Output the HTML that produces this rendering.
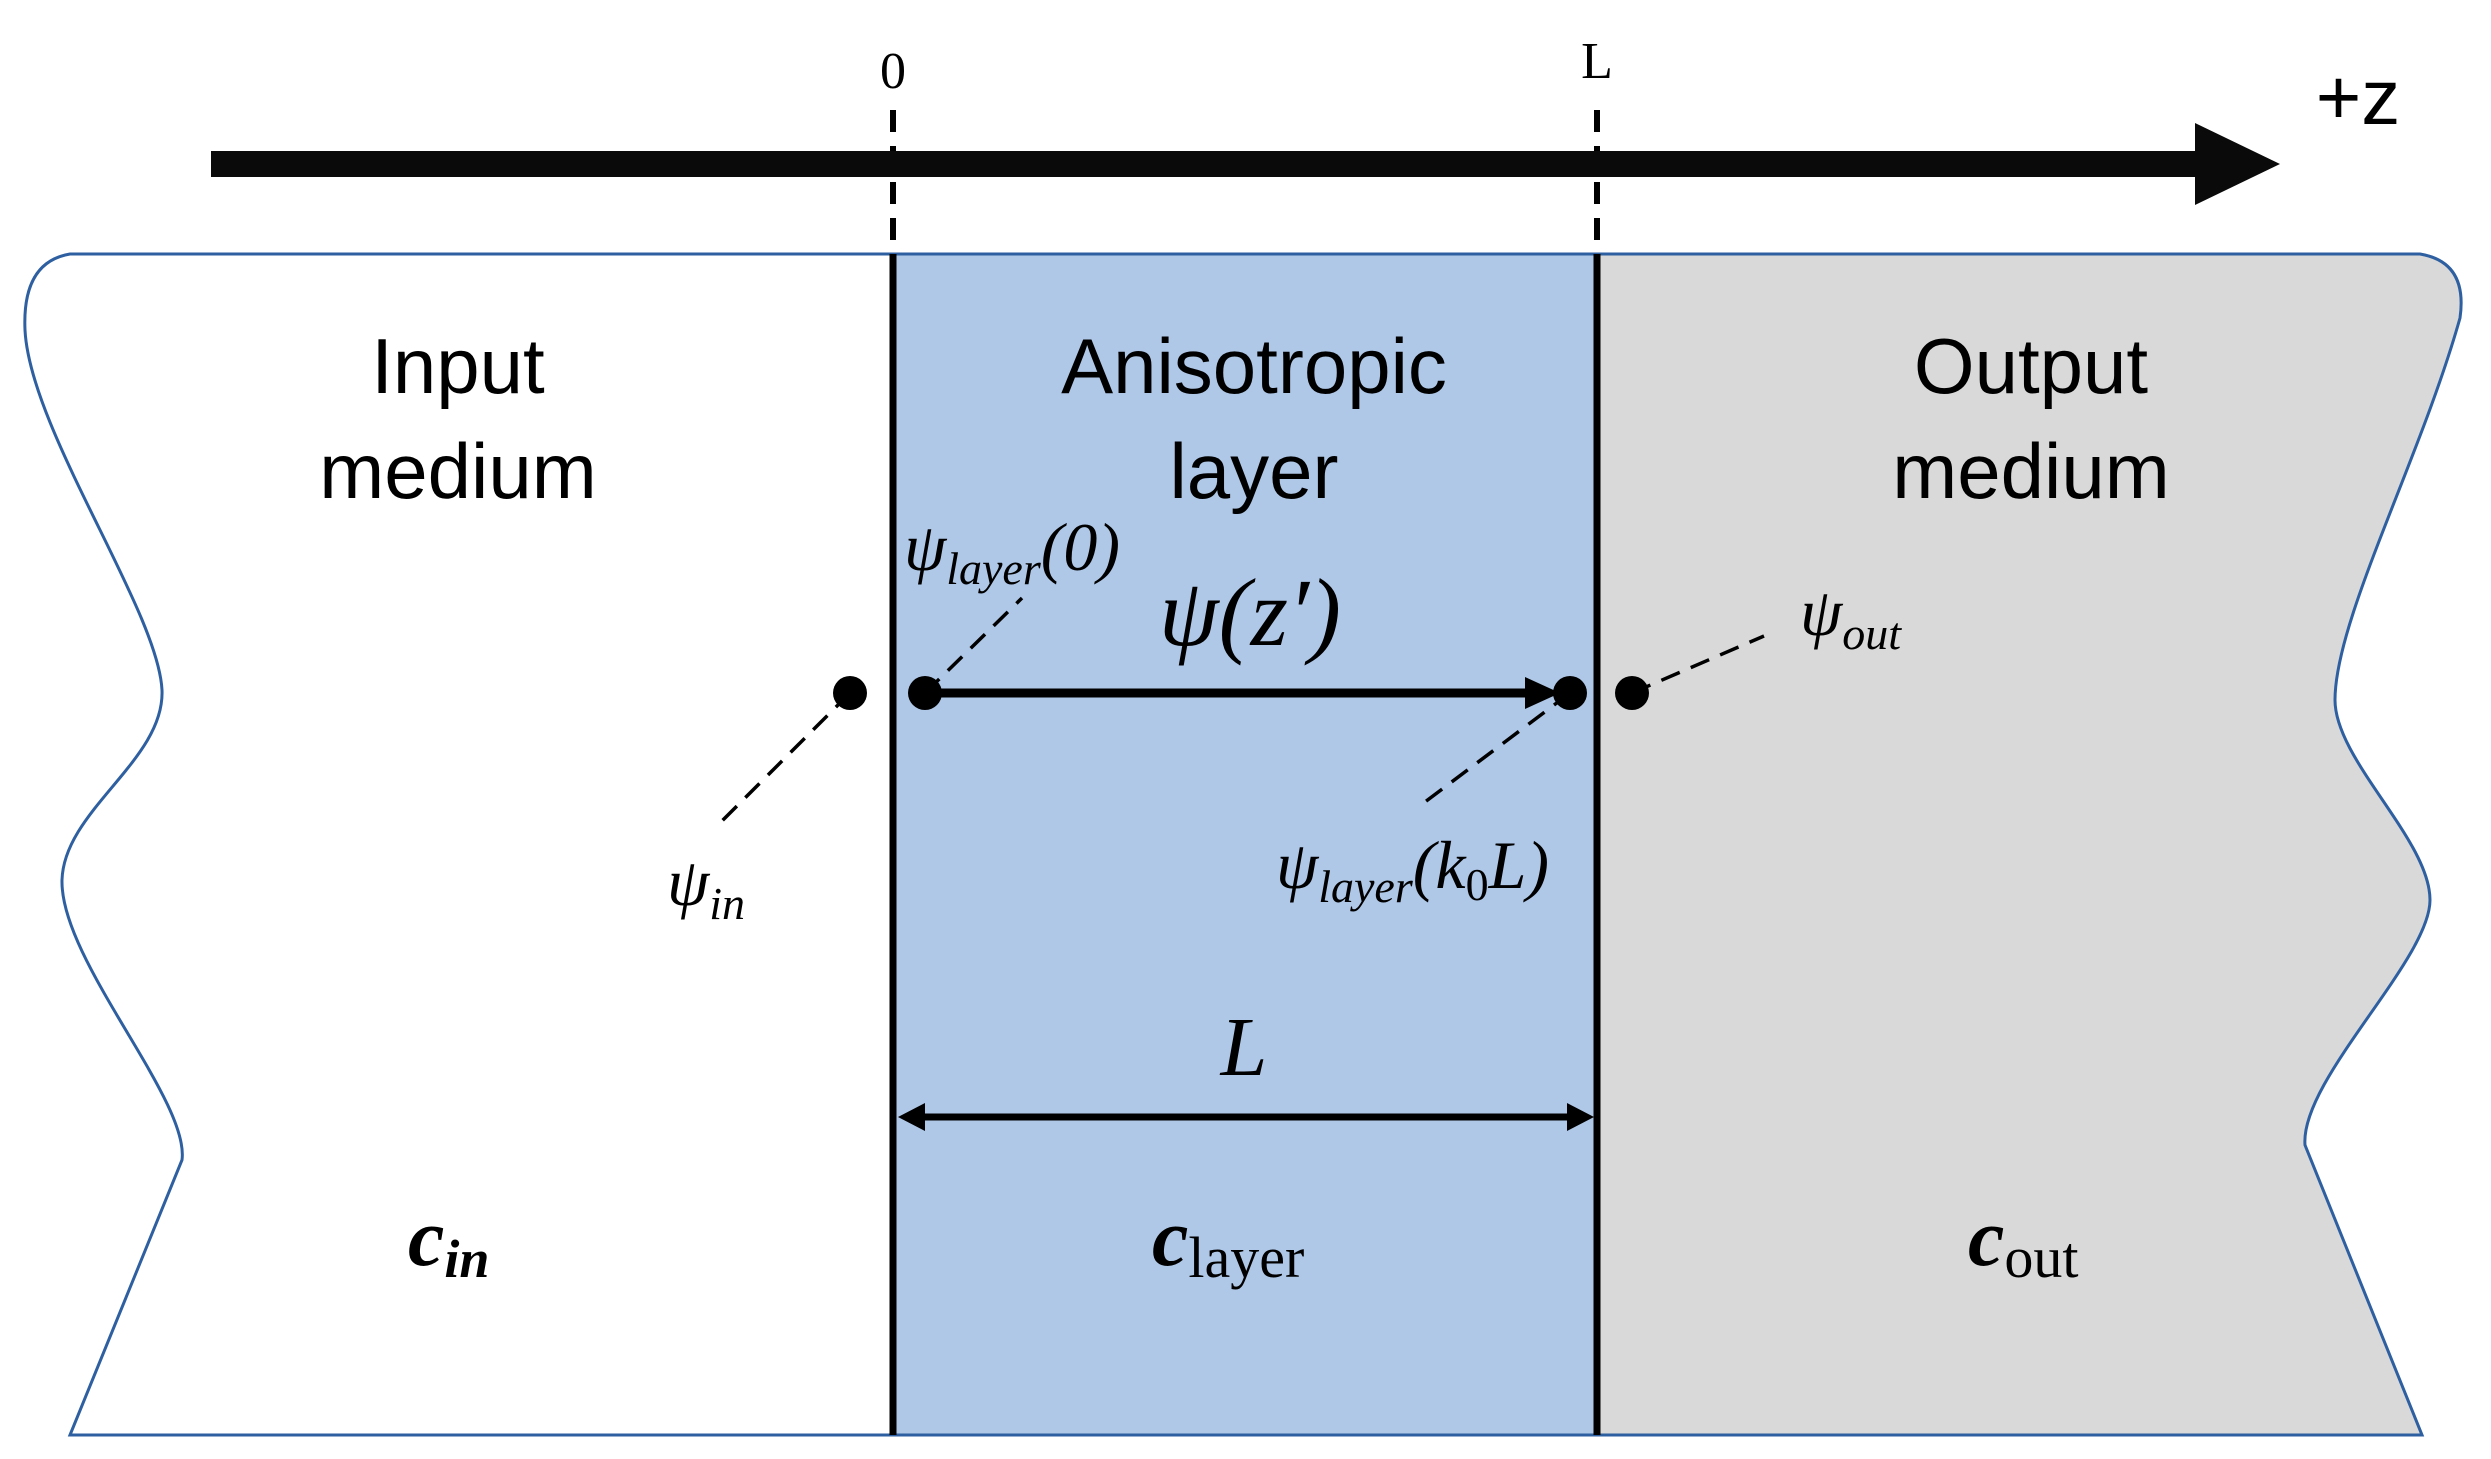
<!DOCTYPE html>
<html><head><meta charset="utf-8"><style>html,body{margin:0;padding:0;background:#fff}svg{display:block}</style></head>
<body>
<svg width="2491" height="1459" viewBox="0 0 2491 1459" xmlns="http://www.w3.org/2000/svg">
<defs>
<clipPath id="c"><path id="shape" d="M70,254 L2420,254 Q2468,262 2460,318 C2420,460 2335,620 2335,700 C2335,760 2430,840 2430,900 C2430,960 2300,1080 2305,1145 L2422,1435 L70,1435 L182,1160 C190,1100 60,960 62,880 C64,810 165,760 162,690 C158,610 30,430 25,330 Q22,262 70,254 Z"/></clipPath>
</defs>
<g clip-path="url(#c)">
<rect x="0" y="240" width="893" height="1220" fill="#fff"/>
<rect x="893" y="240" width="704" height="1220" fill="#AFC8E8"/>
<rect x="1597" y="240" width="900" height="1220" fill="#D9D9D9"/>
</g>
<use href="#shape" fill="none" stroke="#2E5FA0" stroke-width="3"/>
<line x1="893" y1="254" x2="893" y2="1435" stroke="#000" stroke-width="7"/>
<line x1="1597" y1="254" x2="1597" y2="1435" stroke="#000" stroke-width="7"/>
<line x1="893" y1="110" x2="893" y2="254" stroke="#000" stroke-width="6" stroke-dasharray="22,14"/>
<line x1="1597" y1="110" x2="1597" y2="254" stroke="#000" stroke-width="6" stroke-dasharray="22,14"/>
<rect x="211" y="151" width="1990" height="26" fill="#0a0a0a"/>
<polygon points="2195,123 2280,164 2195,205" fill="#0a0a0a"/>
<g font-family="Liberation Serif, serif" font-size="52" text-anchor="middle">
<text x="893" y="88">0</text><text x="1597" y="78">L</text>
</g>
<text x="2358" y="124" font-family="Liberation Sans, sans-serif" font-size="78" text-anchor="middle">+z</text>
<g font-family="Liberation Sans, sans-serif" font-size="78" text-anchor="middle">
<text x="458" y="393">Input</text><text x="458" y="498">medium</text>
<text x="1254" y="393">Anisotropic</text><text x="1254" y="498">layer</text>
<text x="2031" y="393">Output</text><text x="2031" y="498">medium</text>
</g>
<line x1="925" y1="693" x2="1540" y2="693" stroke="#000" stroke-width="9"/>
<polygon points="1525,677 1560,693 1525,709" fill="#000"/>
<g fill="#000">
<circle cx="850" cy="693" r="17"/><circle cx="925" cy="693" r="17"/>
<circle cx="1570" cy="693" r="17"/><circle cx="1632" cy="693" r="17"/>
</g>
<g stroke="#000" stroke-width="3.5" stroke-dasharray="20,12">
<line x1="925" y1="693" x2="1022" y2="598"/>
<line x1="850" y1="693" x2="720" y2="823"/>
<line x1="1570" y1="693" x2="1425" y2="802"/>
<line x1="1632" y1="693" x2="1764" y2="636"/>
</g>
<g font-family="Liberation Serif, serif" font-style="italic">
<text x="1250" y="645" font-size="96" text-anchor="middle">ψ(z′)</text>
<text x="904" y="570" font-size="68">ψ<tspan font-size="46" dy="14">layer</tspan><tspan dy="-14">(0)</tspan></text>
<text x="667" y="905" font-size="68">ψ<tspan font-size="46" dy="14">in</tspan></text>
<text x="1800" y="635" font-size="68">ψ<tspan font-size="46" dy="14">out</tspan></text>
<text x="1276" y="888" font-size="68">ψ<tspan font-size="46" dy="14">layer</tspan><tspan dy="-14">(k</tspan><tspan font-style="normal" font-size="46" dy="12">0</tspan><tspan dy="-12">L)</tspan></text>
<text x="1244" y="1075" font-size="84" text-anchor="middle">L</text>
</g>
<line x1="915" y1="1117" x2="1575" y2="1117" stroke="#000" stroke-width="7"/>
<polygon points="898,1117 925,1103 925,1131" fill="#000"/>
<polygon points="1594,1117 1567,1103 1567,1131" fill="#000"/>
<g font-family="Liberation Serif, serif" font-size="82">
<text x="408" y="1265" font-style="italic" font-weight="bold">c<tspan font-size="54" dy="12">in</tspan></text>
<text x="1152" y="1265" font-style="italic" font-weight="bold">c<tspan font-style="normal" font-weight="normal" font-size="58" dy="12">layer</tspan></text>
<text x="1968" y="1265" font-style="italic" font-weight="bold">c<tspan font-style="normal" font-weight="normal" font-size="58" dy="12">out</tspan></text>
</g>
</svg>
</body></html>
